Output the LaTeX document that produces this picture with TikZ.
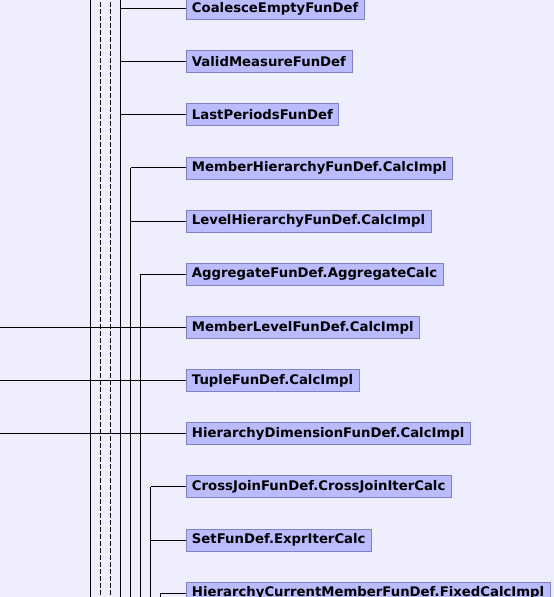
\documentclass[tikz,border=0pt]{standalone}
\usepackage{fontspec}
\setmainfont{DejaVu Sans}
\begin{document}
\begin{tikzpicture}[x=1pt,y=-1pt,
  cls/.style={draw=boxedge,fill=boxfill,line width=0.9pt,anchor=west,
    inner xsep=6pt,inner ysep=0pt,minimum height=22pt,
    font=\fontsize{13.25}{15}\selectfont\bfseries},
  link/.style={line width=1pt,black},
  dlink/.style={line width=1pt,black,dash pattern=on 5pt off 2pt}]
\definecolor{bgcol}{RGB}{238,238,255}
\definecolor{boxfill}{RGB}{187,187,255}
\definecolor{boxedge}{RGB}{128,128,196}
\useasboundingbox[fill=bgcol] (0,0) rectangle (554,597);
\begin{scope}
\clip (0,0) rectangle (554,597);
% rows
\foreach \n/\t [count=\k from 0] in {
  a/CoalesceEmptyFunDef,
  b/ValidMeasureFunDef,
  c/LastPeriodsFunDef,
  d/MemberHierarchyFunDef.CalcImpl,
  e/LevelHierarchyFunDef.CalcImpl,
  f/AggregateFunDef.AggregateCalc,
  g/MemberLevelFunDef.CalcImpl,
  h/TupleFunDef.CalcImpl,
  i/HierarchyDimensionFunDef.CalcImpl,
  j/CrossJoinFunDef.CrossJoinIterCalc,
  k/SetFunDef.ExprIterCalc,
  l/HierarchyCurrentMemberFunDef.FixedCalcImpl}{
  \node[cls] (\n) at (185.5,{8.5+53.15*\k}) {\t};
}
% vertical trunks
\coordinate (v1t) at (90.5,-5);   \coordinate (v1b) at (90.5,600);
\coordinate (v2t) at (100.5,-5);  \coordinate (v2b) at (100.5,600);
\coordinate (v3t) at (110.5,-5);  \coordinate (v3b) at (110.5,600);
\coordinate (v4t) at (120.5,-5);  \coordinate (v4b) at (120.5,600);
\coordinate (v5t) at (130.5,0|-d.west); \coordinate (v5b) at (130.5,600);
\coordinate (v6t) at (140.5,0|-f.west); \coordinate (v6b) at (140.5,600);
\coordinate (v7t) at (150.5,0|-j.west); \coordinate (v7b) at (150.5,600);
\coordinate (v8t) at (160.5,0|-l.west); \coordinate (v8b) at (160.5,600);
\draw[link] (v1t) -- (v1b);
\draw[dlink] (v2t) -- (v2b);
\draw[dlink] (v3t) -- (v3b);
\draw[link] (v4t) -- (v4b);
\draw[link] (v5t) -- (v5b);
\draw[link] (v6t) -- (v6b);
\draw[link] (v7t) -- (v7b);
\draw[link] (v8t) -- (v8b);
% branches
\foreach \n in {a,b,c} \draw[link] (v4t|-\n.west) -- (\n.west);
\foreach \n in {d,e} \draw[link] (v5t|-\n.west) -- (\n.west);
\draw[link] (v6t) -- (f.west);
\foreach \n in {g,h,i} { \coordinate (s\n) at (0,0|-\n.west); \draw[link] (s\n) -- (\n.west); }
\foreach \n in {j,k} \draw[link] (v7t|-\n.west) -- (\n.west);
\draw[link] (v8t) -- (l.west);
\end{scope}
\end{tikzpicture}
\end{document}
